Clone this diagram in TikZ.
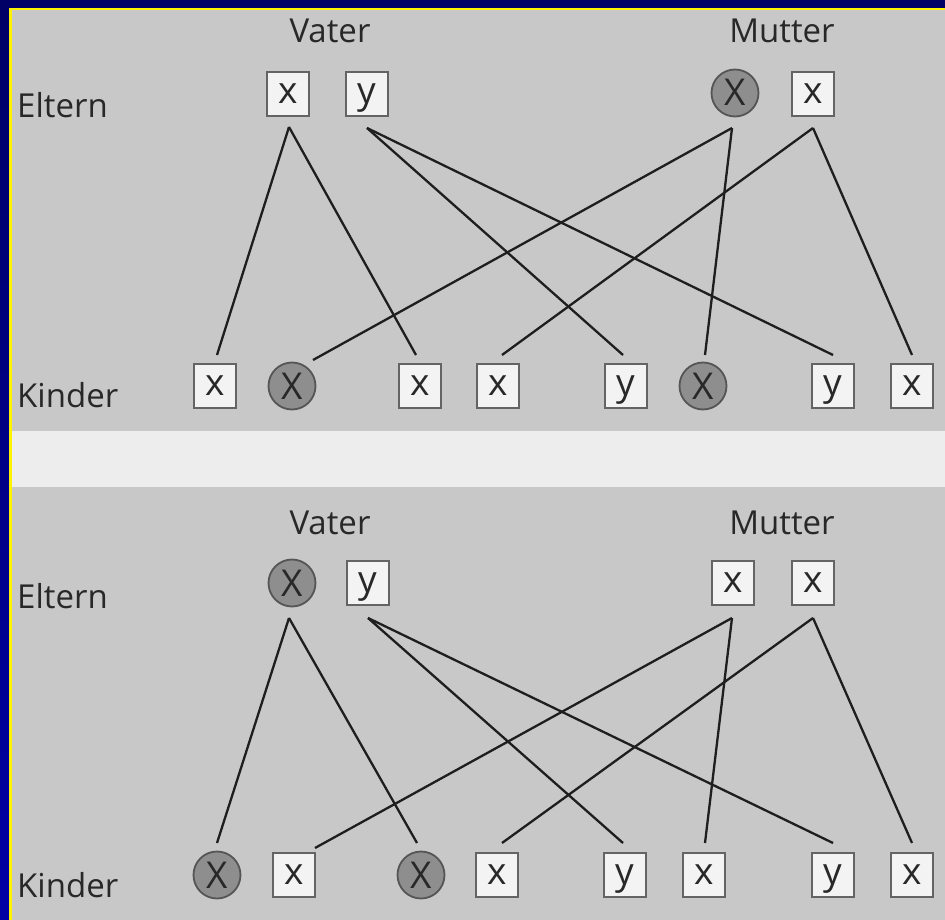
\documentclass[tikz,border=0pt]{standalone}
\usepackage{fontspec}
\setmainfont{Open Sans}
\usetikzlibrary{calc}
\definecolor{navy}{RGB}{0,0,102}
\definecolor{slideblue}{RGB}{0,0,165}
\definecolor{scan}{RGB}{200,200,200}
\definecolor{band}{RGB}{237,237,237}
\definecolor{ink}{RGB}{40,40,40}
\definecolor{wire}{RGB}{30,30,30}
\definecolor{boxfill}{RGB}{243,243,243}
\definecolor{boxline}{RGB}{100,100,100}
\definecolor{carrier}{RGB}{142,142,142}
\tikzset{
  gene/.style={draw=boxline, line width=1.8pt, fill=boxfill, minimum width=42pt,
    minimum height=44pt, inner sep=0pt, text height=19.5pt, text depth=0pt,
    font=\fontsize{37}{37}\selectfont, text=ink},
  sick/.style={circle, draw=boxline!85!black, line width=1.8pt, fill=carrier,
    minimum size=47pt, inner sep=0pt, text height=26pt, text depth=0pt,
    font=\fontsize{37}{37}\selectfont, text=ink},
  lbl/.style={font=\fontsize{33}{33}\selectfont, text=ink, inner sep=0pt},
  link/.style={draw=wire, line width=2.3pt},
}
\begin{document}
\begin{tikzpicture}[x=1pt,y=-1pt]
\useasboundingbox (0,0) rectangle (945,920);
% slide frame
\fill[navy] (0,0) rectangle (945,920);
\shade[top color=navy, bottom color=slideblue] (0,0) rectangle (9.5,920);
\fill[yellow] (9,8) rectangle (945,10.5);
\fill[yellow] (9,8) rectangle (11.5,920);
\fill[scan] (11.5,10.5) rectangle (945,920);
\fill[band] (11.5,431) rectangle (945,487);

% ---------- upper panel ----------
\node[lbl, anchor=base] (vA) at (330,43) {Vater};
\node[lbl, anchor=base] (mA) at (782,43) {Mutter};
\node[lbl, anchor=base west] (eA) at (17,118) {Eltern};
\node[lbl, anchor=base west] (kA) at (17,407) {Kinder};

\node[gene] (P1) at (288,94) {x};
\node[gene] (P2) at (367,94) {y};
\node[sick] (P3) at (735,93) {X};
\node[gene] (P4) at (813,94) {x};

\node[gene] (K1) at (215,386) {x};
\node[sick] (K2) at (292,386) {X};
\node[gene] (K3) at (420,386) {x};
\node[gene] (K4) at (498,386) {x};
\node[gene] (K5) at (626,386) {y};
\node[sick] (K6) at (703,386) {X};
\node[gene] (K7) at (833,386) {y};
\node[gene] (K8) at (912,386) {x};

\draw[link] ($(P1)+(1,33)$) -- ($(K1)+(2,-31)$);
\draw[link] ($(P1)+(1,33)$) -- ($(K3)+(-4,-31)$);
\draw[link] ($(P2)+(0,34)$) -- ($(K5)+(-3,-31)$);
\draw[link] ($(P2)+(0,34)$) -- ($(K7)+(0,-31)$);
\draw[link] ($(P3)+(-3,35)$) -- ($(K2)+(21,-26)$);
\draw[link] ($(P3)+(-3,35)$) -- ($(K6)+(2,-31)$);
\draw[link] ($(P4)+(0,34)$) -- ($(K4)+(4,-31)$);
\draw[link] ($(P4)+(0,34)$) -- ($(K8)+(0,-31)$);

% ---------- lower panel ----------
\node[lbl, anchor=base] (vB) at (330,534) {Vater};
\node[lbl, anchor=base] (mB) at (782,534) {Mutter};
\node[lbl, anchor=base west] (eB) at (17,608) {Eltern};
\node[lbl, anchor=base west] (kB) at (17,897) {Kinder};

\node[sick] (Q1) at (292,583) {X};
\node[gene] (Q2) at (368,583) {y};
\node[gene] (Q3) at (733,583) {x};
\node[gene] (Q4) at (813,583) {x};

\node[sick] (L1) at (217,875) {X};
\node[gene] (L2) at (294,875) {x};
\node[sick] (L3) at (421,875) {X};
\node[gene] (L4) at (497,875) {x};
\node[gene] (L5) at (625,875) {y};
\node[gene] (L6) at (704,875) {x};
\node[gene] (L7) at (833,875) {y};
\node[gene] (L8) at (912,875) {x};

\draw[link] ($(Q1)+(-3,35)$) -- ($(L1)+(0,-32)$);
\draw[link] ($(Q1)+(-3,35)$) -- ($(L3)+(-4,-32)$);
\draw[link] ($(Q2)+(0,35)$) -- ($(L5)+(-2,-32)$);
\draw[link] ($(Q2)+(0,35)$) -- ($(L7)+(0,-32)$);
\draw[link] ($(Q3)+(-1,35)$) -- ($(L2)+(21,-27)$);
\draw[link] ($(Q3)+(-1,35)$) -- ($(L6)+(1,-32)$);
\draw[link] ($(Q4)+(0,35)$) -- ($(L4)+(5,-32)$);
\draw[link] ($(Q4)+(0,35)$) -- ($(L8)+(0,-32)$);
\end{tikzpicture}
\end{document}
